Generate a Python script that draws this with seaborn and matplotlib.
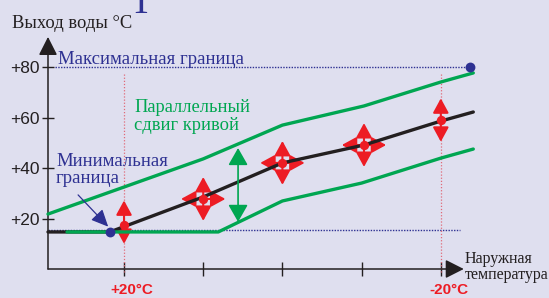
import matplotlib
matplotlib.use("Agg")
import matplotlib.pyplot as plt
import seaborn as sns

# heating curve: outdoor temperature (x, °C) -> supply water temperature (y, °C)
curve_t = [29.6, 21.8, 10, 0, -10.3, -20, -24.1]
curve_y = [14.7, 14.7, 28.6, 42.1, 49.2, 58.7, 62.3]
upper_t = [29.6, 10, 0, -10.3, -20, -24.1]
upper_y = [21.8, 43.7, 57.1, 64.7, 74.2, 77.8]
lower_t = [27.2, 8.1, 0, -10, -20, -24.1]
lower_y = [14.7, 14.7, 27.0, 34.1, 44.0, 47.6]

max_limit = 80
min_limit = 15.5
limit_t = [-23.7, 21.8]
limit_y = [80, 14.7]

y_ticks = [20, 40, 60, 80]
y_labels = ['+20', '+40', '+60', '+80']
x_ticks = [20, 10, 0, -10, -20]
x_labels = ['+20°C', '', '', '', '-20°C']

# adjustment markers on the curve
vert_t = [20, -20]
vert_y = [18.6, 59.1]
cross_t = [10, 0, -10.3]
cross_y = [27.8, 42.1, 49.2]
dot_t = [20, 10, 0, -10.3, -20]
dot_y = [17.5, 27.8, 42.1, 49.2, 59.1]
shift_t = 5.6
shift_top, shift_bottom = 48.0, 18.7

bg = '#DFDFEF'
green = '#00A651'
red = '#ED1C24'
navy = '#2E3192'
dark = '#231F20'

sns.set_theme(style='white', rc={'axes.facecolor': bg, 'figure.facecolor': bg})
plt.rcParams['font.family'] = ['Liberation Serif', 'DejaVu Serif']

W, H = 549, 298
fig = plt.figure(figsize=(W / 100, H / 100), dpi=100)
ax = fig.add_axes([48 / W, (H - 269) / H, (W - 48) / W, 269 / H])
ax.set_xlim(29.6, -33.66)
ax.set_ylim(0, 269 / 2.52)
for s in ax.spines.values():
    s.set_visible(False)


def fx(px):
    return px / W


def fy(py):
    return 1 - py / H


# limit lines
ax.plot([28.7, limit_t[0]], [max_limit, max_limit], color=navy, lw=1.0,
        ls=(0, (1, 1)), zorder=1)
ax.plot([29.6, -22.4], [min_limit, min_limit], color=navy, lw=1.0,
        ls=(0, (1, 1)), zorder=1)
for t in [20, -20]:
    ax.plot([t, t], [77.4, -1], color='#E06A78', lw=0.9, ls=(0, (1, 1.5)),
            zorder=1, clip_on=False)

# red adjustment arrows
red_style = dict(arrowstyle='<|-|>,head_length=0.55,head_width=0.3',
                 color=red, lw=1.5, mutation_scale=16, shrinkA=0, shrinkB=0)
for t, y in zip(vert_t, vert_y):
    ax.annotate('', xy=(t, y + 8.6), xytext=(t, y - 8.6), arrowprops=red_style, zorder=2)
for t, y in zip(cross_t, cross_y):
    ax.annotate('', xy=(t, y + 8.7), xytext=(t, y - 8.7), arrowprops=red_style, zorder=2)
    ax.annotate('', xy=(t - 2.8, y), xytext=(t + 2.8, y), arrowprops=red_style, zorder=2)

# curves
sns.lineplot(x=curve_t, y=curve_y, ax=ax, color=dark, lw=2.4, zorder=3, sort=False)
sns.lineplot(x=upper_t, y=upper_y, ax=ax, color=green, lw=2.4, zorder=4, sort=False)
sns.lineplot(x=lower_t, y=lower_y, ax=ax, color=green, lw=2.4, zorder=4, sort=False)
for line in ax.lines:
    line.set_clip_on(False)

ax.scatter(dot_t, dot_y, s=45, color=red, zorder=5, linewidths=0)
ax.scatter(limit_t, limit_y, s=50, color=navy, zorder=6, linewidths=0, clip_on=False)

# parallel shift arrow
ax.annotate('', xy=(shift_t, shift_top), xytext=(shift_t, shift_bottom),
            arrowprops=dict(arrowstyle='<|-|>,head_length=0.7,head_width=0.4',
                            color=green, lw=1.2, mutation_scale=15,
                            shrinkA=0, shrinkB=0), zorder=4)

# axes with arrows
axis_style = dict(arrowstyle='-|>,head_length=0.75,head_width=0.38', color=dark,
                  lw=1.1, mutation_scale=15, shrinkA=0, shrinkB=0)
ax.annotate('', xy=(29.6, 92.1), xytext=(29.6, 0), arrowprops=axis_style,
            annotation_clip=False)
ax.annotate('', xy=(-22.9, 0), xytext=(29.6, 0), arrowprops=axis_style,
            annotation_clip=False)

ax.set_yticks(y_ticks)
ax.set_yticklabels(y_labels, family='Liberation Sans', fontsize=12.5, color=dark)
ax.set_xticks(x_ticks)
ax.set_xticklabels([''] * len(x_ticks))
ax.tick_params(axis='y', direction='inout', length=8.6, width=1.0, color=dark,
               pad=1.5, left=True)
ax.tick_params(axis='x', direction='inout', length=9.4, width=1.0, color=dark,
               bottom=True)
for t, lab in zip(x_ticks, x_labels):
    if lab:
        ax.text(t - 1.0, -8.4, lab, ha='center', va='center', color=red,
                fontsize=11, fontweight='bold', family='Liberation Sans',
                clip_on=False)

# minimum boundary pointer
ax.annotate('', xy=(22.0, 16.8), xytext=(25.8, 29.4),
            arrowprops=dict(arrowstyle='-|>,head_length=0.65,head_width=0.3',
                            color=navy, lw=0.9, mutation_scale=16,
                            shrinkA=0, shrinkB=0), zorder=6)

# texts
fig.text(fx(141), fy(13), 'Т', color=navy, fontsize=27, ha='center', va='baseline')
fig.text(fx(12), fy(24), 'Выход воды °C', color=dark, fontsize=13.3, ha='left', va='center')
fig.text(fx(58), fy(60), 'Максимальная граница', color=navy, fontsize=13.5,
         ha='left', va='center')
fig.text(fx(134), fy(116.5), 'Параллельный\nсдвиг кривой', color=green, fontsize=13.3,
         ha='left', va='center', linespacing=1.05)
fig.text(fx(56), fy(170), 'Минимальная\nграница', color=navy, fontsize=13.5,
         ha='left', va='center', linespacing=1.05)
fig.text(fx(465), fy(267), 'Наружная\nтемпература', color=dark, fontsize=11.5,
         ha='left', va='center', linespacing=1.05)

fig.savefig('out.png', dpi=100, facecolor=bg)
